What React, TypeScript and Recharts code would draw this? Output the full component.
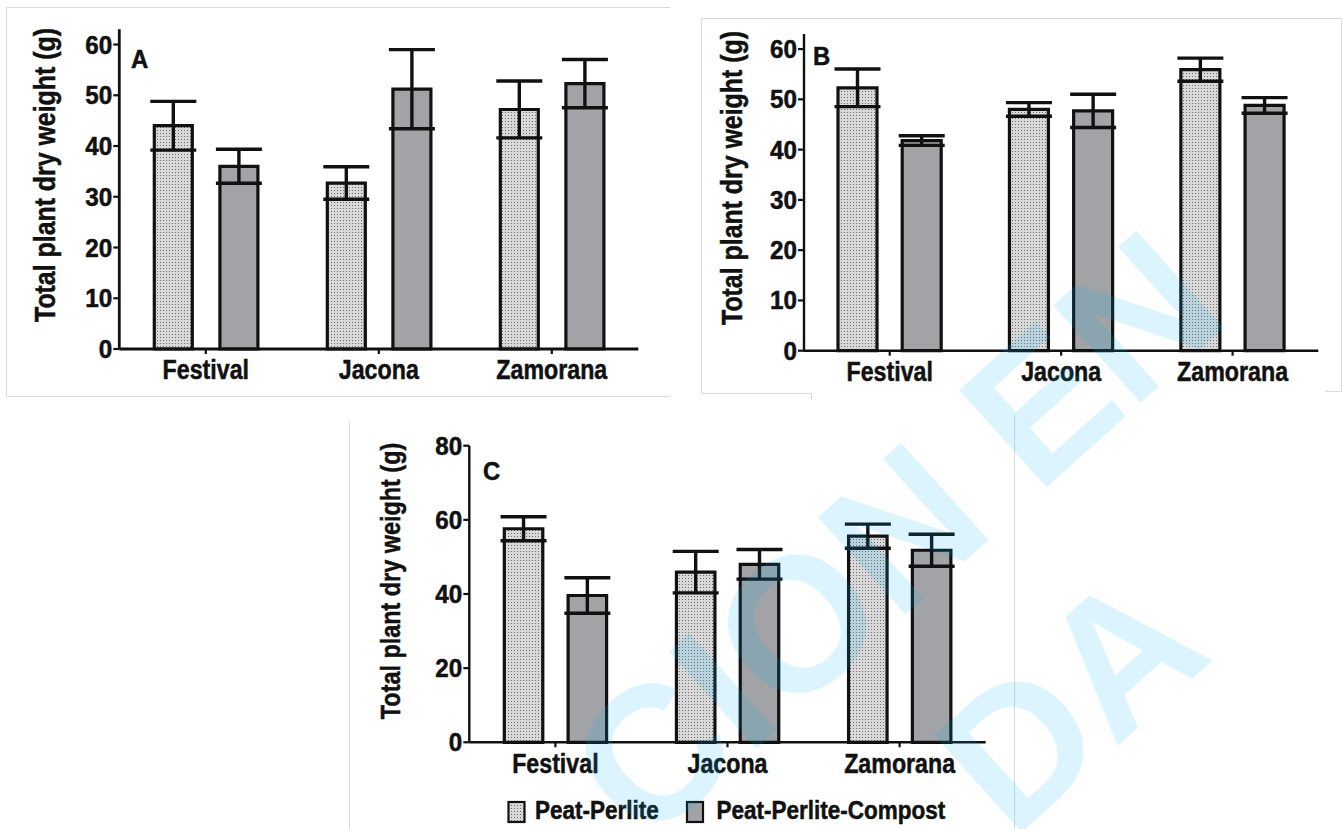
import React from "react";
import { BarChart, Bar, XAxis, YAxis, ErrorBar } from "recharts";

const cultivars = ["Festival", "Jacona", "Zamorana"];
const treatments = ["Peat-Perlite", "Peat-Perlite-Compost"];

// panel A
const peatA = [44.0, 32.7, 47.2];
const peatErrA = [4.8, 3.2, 5.6];
const compostA = [36.0, 51.2, 52.3];
const compostErrA = [3.35, 7.8, 4.75];

// panel B
const peatB = [52.3, 48.0, 55.9];
const peatErrB = [3.75, 1.35, 2.3];
const compostB = [41.8, 47.7, 48.8];
const compostErrB = [0.95, 3.3, 1.55];

// panel C
const peatC = [57.6, 45.9, 55.6];
const peatErrC = [3.25, 5.6, 3.25];
const compostC = [39.6, 48.0, 51.8];
const compostErrC = [4.8, 4.0, 4.3];

const ticksAB = [0, 10, 20, 30, 40, 50, 60];
const ticksC = [0, 20, 40, 60, 80];

const INK = "#111";
const GREY = "#a2a3a6";
const FONT = '"Liberation Sans", Arial, sans-serif';
const XH = 40;

type Row = { name: string; peat: number; peatErr: number; compost: number; compostErr: number };

function rows(peat: number[], peatErr: number[], compost: number[], compostErr: number[]): Row[] {
  return cultivars.map((name, i) => ({
    name,
    peat: peat[i],
    peatErr: peatErr[i],
    compost: compost[i],
    compostErr: compostErr[i],
  }));
}

// the source uses a heavy condensed face: squeeze Liberation Sans Bold and thicken it a little
const heavy = { fill: INK, stroke: INK, strokeWidth: 0.5, fontWeight: 700, fontFamily: FONT };

function XTick(props: any) {
  const { x, y, payload } = props;
  return (
    <text transform={`translate(${x} ${y}) scale(0.86 1)`} textAnchor="middle" dy="0.72em" fontSize={27} {...heavy}>
      {payload.value}
    </text>
  );
}

function YTick(props: any) {
  const { x, y, payload } = props;
  return (
    <text transform={`translate(${x} ${y}) scale(0.97 1)`} textAnchor="end" dy="0.36em" fontSize={25} {...heavy}>
      {payload.value}
    </text>
  );
}

function AxisTitle({ tx, ty, size }: { tx: number; ty: number; size: number }) {
  return (
    <text
      transform={`translate(${tx} ${ty}) rotate(-90) scale(0.83 1)`}
      textAnchor="middle"
      fontSize={size}
      {...heavy}
    >
      Total plant dry weight (g)
    </text>
  );
}

type PanelProps = {
  id: string;
  data: Row[];
  left: number;
  top: number;
  width: number;
  height: number;
  plot: { x0: number; y0: number; x1: number; y1: number };
  yMax: number;
  ticks: number[];
  title: { x: number; y: number; size: number };
  axisW: number;
  frameW: number;
  frameColor: string;
  barSize: number;
  barGap: number;
};

function Panel(p: PanelProps) {
  const margin = {
    top: p.plot.y0 - p.top,
    right: p.left + p.width - p.plot.x1,
    bottom: p.top + p.height - p.plot.y1 - XH,
    left: 0,
  };
  return (
    <div style={{ position: "absolute", left: p.left, top: p.top }}>
      <BarChart
        width={p.width}
        height={p.height}
        data={p.data}
        margin={margin}
        barSize={p.barSize}
        barGap={p.barGap}
      >
        <defs>
          <pattern id={`dots-${p.id}`} width="3" height="3" patternUnits="userSpaceOnUse">
            <rect width="3" height="3" fill="#d9d9d9" />
            <rect x="1" y="1" width="1" height="1" fill="#6a6a6a" />
          </pattern>
        </defs>
        <XAxis
          dataKey="name"
          interval={0}
          height={XH}
          tickSize={5}
          tickMargin={6}
          axisLine={{ stroke: INK, strokeWidth: p.axisW }}
          tickLine={{ stroke: INK, strokeWidth: 2.2 }}
          tick={XTick}
        />
        <XAxis
          xAxisId="top"
          orientation="top"
          dataKey="name"
          height={0}
          tick={false}
          tickLine={false}
          axisLine={{ stroke: p.frameColor, strokeWidth: p.frameW }}
        />
        <YAxis
          type="number"
          domain={[0, p.yMax]}
          ticks={p.ticks}
          interval={0}
          width={p.plot.x0 - p.left}
          tickSize={6}
          tickMargin={1}
          axisLine={{ stroke: INK, strokeWidth: p.axisW }}
          tickLine={{ stroke: INK, strokeWidth: 2.2 }}
          tick={YTick}
          label={<AxisTitle tx={p.title.x - p.left} ty={p.title.y - p.top} size={p.title.size} />}
        />
        <YAxis
          yAxisId="right"
          orientation="right"
          type="number"
          domain={[0, p.yMax]}
          width={0}
          tick={false}
          tickLine={false}
          axisLine={{ stroke: p.frameColor, strokeWidth: p.frameW }}
        />
        <Bar
          dataKey="peat"
          name={treatments[0]}
          fill={`url(#dots-${p.id})`}
          stroke={INK}
          strokeWidth={3.2}
          isAnimationActive={false}
        >
          <ErrorBar dataKey="peatErr" width={23} stroke={INK} strokeWidth={3.4} />
        </Bar>
        <Bar
          dataKey="compost"
          name={treatments[1]}
          fill={GREY}
          stroke={INK}
          strokeWidth={3.2}
          isAnimationActive={false}
        >
          <ErrorBar dataKey="compostErr" width={23} stroke={INK} strokeWidth={3.4} />
        </Bar>
      </BarChart>
    </div>
  );
}

export default function App() {
  const letter = (x: number, y: number, s: string) => (
    <text transform={`translate(${x} ${y}) scale(0.92 1)`} fontSize={26} {...heavy}>
      {s}
    </text>
  );
  const legendText = (x: number, s: string) => (
    <text transform={`translate(${x} 819) scale(0.9 1)`} fontSize={25} {...heavy}>
      {s}
    </text>
  );
  return (
    <div
      style={{
        position: "absolute",
        left: 0,
        top: 0,
        width: 1343,
        height: 829,
        background: "#fff",
        overflow: "hidden",
      }}
    >
      <Panel
        id="a"
        data={rows(peatA, peatErrA, compostA, compostErrA)}
        left={0}
        top={0}
        width={660}
        height={400}
        plot={{ x0: 119.3, y0: 29.3, x1: 638.3, y1: 349 }}
        yMax={63}
        ticks={ticksAB}
        title={{ x: 55, y: 175, size: 30 }}
        axisW={2.8}
        frameW={2.8}
        frameColor={INK}
        barSize={38}
        barGap={27.6}
      />
      <Panel
        id="b"
        data={rows(peatB, peatErrB, compostB, compostErrB)}
        left={690}
        top={0}
        width={650}
        height={400}
        plot={{ x0: 804, y0: 34, x1: 1318.3, y1: 350.7 }}
        yMax={63}
        ticks={ticksAB}
        title={{ x: 742, y: 178, size: 30 }}
        axisW={2.4}
        frameW={1.4}
        frameColor="#333"
        barSize={39}
        barGap={25.2}
      />
      <Panel
        id="c"
        data={rows(peatC, peatErrC, compostC, compostErrC)}
        left={345}
        top={415}
        width={660}
        height={414}
        plot={{ x0: 469.3, y0: 445.7, x1: 985.7, y1: 742.3 }}
        yMax={80}
        ticks={ticksC}
        title={{ x: 400, y: 581, size: 28.2 }}
        axisW={2.4}
        frameW={2}
        frameColor="#222"
        barSize={38.5}
        barGap={25.3}
      />
      <svg
        width={1343}
        height={829}
        style={{ position: "absolute", left: 0, top: 0, pointerEvents: "none" }}
      >
        <defs>
          <pattern id="dots-legend" width="3" height="3" patternUnits="userSpaceOnUse">
            <rect width="3" height="3" fill="#d9d9d9" />
            <rect x="1" y="1" width="1" height="1" fill="#6a6a6a" />
          </pattern>
        </defs>
        {/* faint panel frames */}
        <g stroke="#d9d9d9" strokeWidth={1} fill="none">
          <path d="M670 7.5 H6.5 V396.5 H670" />
          <path d="M811.5 400 V393.5 H701.5 V18.5 H1341.5 V391.5 H1325" />
          <path d="M349.5 421 V829 M1014.5 415 V829" />
        </g>
        {letter(131, 68, "A")}
        {letter(813, 65, "B")}
        {letter(483, 480, "C")}
        {/* legend */}
        <rect x={508.5} y={802} width={16} height={20} fill="url(#dots-legend)" stroke={INK} strokeWidth={2.2} />
        {legendText(535, treatments[0])}
        <rect x={687} y={802} width={16} height={20} fill={GREY} stroke={INK} strokeWidth={2.2} />
        {legendText(716.5, treatments[1])}
        {/* watermark */}
        <g fill="#00aeef" fillOpacity={0.14} fontFamily={FONT} fontWeight={700} fontSize={190}>
          <text x={895} y={535} transform="rotate(-42 895 535)" textAnchor="middle" dominantBaseline="central">
            CION EN
          </text>
          <text x={1070} y={700} transform="rotate(-42 1070 700)" textAnchor="middle" dominantBaseline="central">
            DA
          </text>
        </g>
      </svg>
    </div>
  );
}
